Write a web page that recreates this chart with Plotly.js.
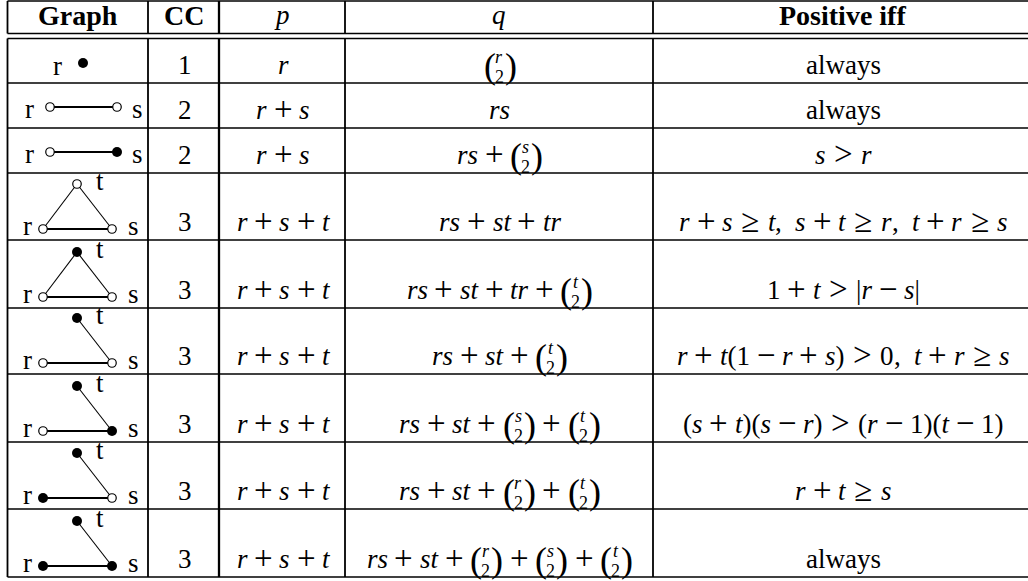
<!DOCTYPE html>
<html>
<head>
<meta charset="utf-8">
<script src="https://cdn.plot.ly/plotly-3.0.1.min.js"></script>
<style>
html, body { margin: 0; padding: 0; background: #fff; }
#plot { width: 1028px; height: 581px; }
</style>
</head>
<body>
<div id="plot"></div>
<script>
// table content
var headers = ["Graph", "CC", "p", "q", "Positive iff"];
var nodeSets = ["r", "rs", "rs", "rst", "rst", "rst", "rst", "rst", "rst"];
var filledNodes = ["r", "", "s", "", "t", "t", "st", "rt", "rst"];
var edgeSets = [[], ["rs"], ["rs"], ["rs", "st", "tr"], ["rs", "st", "tr"],
  ["rs", "st"], ["rs", "st"], ["rs", "st"], ["rs", "st"]];
var ccValues = ["1", "2", "2", "3", "3", "3", "3", "3", "3"];
var pValues = ["r", "r + s", "r + s", "r + s + t", "r + s + t", "r + s + t",
  "r + s + t", "r + s + t", "r + s + t"];
// {x} stands for the binomial coefficient (x choose 2)
var qValues = ["{r}", "rs", "rs + {s}", "rs + st + tr", "rs + st + tr + {t}",
  "rs + st + {t}", "rs + st + {s} + {t}", "rs + st + {r} + {t}",
  "rs + st + {r} + {s} + {t}"];
var conditions = ["always", "always", "s > r",
  "r + s ≥ t, s + t ≥ r, t + r ≥ s",
  "1 + t > |r − s|",
  "r + t(1 − r + s) > 0, t + r ≥ s",
  "(s + t)(s − r) > (r − 1)(t − 1)",
  "r + t ≥ s", "always"];

// page geometry (pixels)
var colEdges = [7.5, 148, 219, 345, 653, 1032];
var headTop = 1, headBottom = 33.5, bodyTop = 38.5;
var rowBottoms = [83, 128, 173, 240, 308, 374, 442, 509, 577];

var FONT = "'Liberation Serif', 'DejaVu Serif', serif";
var SIZE = 27, SMALL = 18, PAREN = 36, HEAD = 28, OP = 33;
var K = 0.3375; // box centre above baseline, in em
var GAP = { bin: 6.8, rel: 8.6, punct: 0.5 * SIZE };

var ctx = document.createElement("canvas").getContext("2d");
function textWidth(s, style, size) {
  ctx.font = style + " " + size + "px " + FONT;
  return ctx.measureText(s).width;
}
function esc(s) { return s.replace(/&/g, "&amp;").replace(/</g, "&lt;").replace(/>/g, "&gt;"); }

var annotations = [];
function put(x, baseline, html, size, anchor) {
  annotations.push({
    x: x, y: baseline - K * size, xref: "x", yref: "y",
    xanchor: anchor || "center", yanchor: "middle",
    text: html, showarrow: false, borderpad: 0,
    font: { family: FONT, size: size, color: "#000" }
  });
}

// split a formula into atoms: ord text, binary ops, relations, commas, binomials
function atoms(str) {
  var out = [], m, re = /\{([a-z])\}|[a-z]+|[0-9]+|[()|]|[+−]|[>≥]|,|\s+/g;
  while ((m = re.exec(str))) {
    var s = m[0];
    if (/^\s+$/.test(s)) continue;
    if (m[1]) out.push({ kind: "binom", top: m[1] });
    else if (/^[a-z]+$/.test(s)) out.push({ kind: "ord", t: s, it: s.length < 3 });
    else if (/^[+−]$/.test(s)) out.push({ kind: "bin", t: s });
    else if (/^[>≥]$/.test(s)) out.push({ kind: "rel", t: s });
    else if (s === ",") out.push({ kind: "punct", t: s });
    else out.push({ kind: "ord", t: s, it: false });
  }
  return out;
}

// lay out one cell centred on cx, TeX-like spacing between atoms
function cell(str, cx, baseline) {
  var items = [], cur = null;
  function flush() { if (cur) { items.push(cur); cur = null; } }
  function addText(t, it) {
    if (!cur) cur = { kind: "text", html: "", w: 0 };
    cur.w += textWidth(t, it ? "italic" : "normal", SIZE);
    cur.html += it ? "<i>" + esc(t) + "</i>" : esc(t);
  }
  atoms(str).forEach(function (a) {
    if (a.kind === "ord") { addText(a.t, a.it); return; }
    flush();
    if (a.kind === "binom") {
      var pw = textWidth("(", "normal", PAREN);
      var inner = Math.max(textWidth(a.top, "italic", SMALL), textWidth("2", "normal", SMALL));
      items.push({ kind: "binom", top: a.top, pw: pw, inner: inner, w: 2 * pw + inner });
    } else if (a.kind === "punct") {
      addText(a.t, false); flush();
      items.push({ kind: "gap", w: GAP.punct });
    } else {
      items.push({ kind: "gap", w: GAP[a.kind] });
      items.push({ kind: "op", html: esc(a.t), w: textWidth(a.t, "normal", OP) });
      items.push({ kind: "gap", w: GAP[a.kind] });
    }
  });
  flush();
  var total = items.reduce(function (s, it) { return s + it.w; }, 0);
  var x = cx - total / 2;
  items.forEach(function (it) {
    if (it.kind === "text") put(x, baseline, it.html, SIZE, "left");
    if (it.kind === "op") put(x, baseline + 0.25 * (OP - SIZE), it.html, OP, "left");
    if (it.kind === "binom") {
      put(x, baseline + 3.7, "(", PAREN, "left");
      put(x + it.pw + it.inner / 2, baseline - 11, "<i>" + it.top + "</i>", SMALL, "center");
      put(x + it.pw + it.inner / 2, baseline + 9.5, "2", SMALL, "center");
      put(x + it.pw + it.inner, baseline + 3.7, ")", PAREN, "left");
    }
    x += it.w;
  });
}

function colCenter(c) { return (colEdges[c] + colEdges[c + 1]) / 2; }

// header
headers.forEach(function (h, c) {
  var html = h.length === 1 ? "<i>" + h + "</i>" : "<b>" + h + "</b>";
  put(colCenter(c), headBottom - 9, html, h.length === 1 ? SIZE : HEAD, "center");
});

// body text columns
rowBottoms.forEach(function (B, i) {
  var base = B - 9;
  cell(ccValues[i], colCenter(1), base);
  cell(pValues[i], colCenter(2), base);
  cell(qValues[i], colCenter(3), base);
  cell(conditions[i], colCenter(4), base);
});

// graph drawings
function nodeXY(i, n) {
  var B = rowBottoms[i], k = nodeSets[i].length;
  if (k === 1) return { r: [83, B - 20] }[n];
  if (k === 2) return { r: [50, B - 21], s: [117, B - 21] }[n];
  return { r: [43, B - 11], s: [112, B - 11], t: [77, B - 56] }[n];
}
function labelXY(i, n) {
  var B = rowBottoms[i], k = nodeSets[i].length;
  if (k === 1) return { r: [57, B - 8] }[n];
  if (k === 2) return { r: [29, B - 10], s: [137, B - 10] }[n];
  return { r: [27, B - 5], s: [133, B - 5], t: [100, B - 50] }[n];
}

var flatX = [], flatY = [], slantX = [], slantY = [];
var openX = [], openY = [], fullX = [], fullY = [];
nodeSets.forEach(function (set, i) {
  edgeSets[i].forEach(function (e) {
    var a = nodeXY(i, e[0]), b = nodeXY(i, e[1]);
    var X = e === "rs" ? flatX : slantX, Y = e === "rs" ? flatY : slantY;
    X.push(a[0], b[0], null); Y.push(a[1], b[1], null);
  });
  set.split("").forEach(function (n) {
    var p = nodeXY(i, n);
    if (filledNodes[i].indexOf(n) >= 0) { fullX.push(p[0]); fullY.push(p[1]); }
    else { openX.push(p[0]); openY.push(p[1]); }
    var l = labelXY(i, n);
    put(l[0], l[1], n, SIZE, "center");
  });
});

var data = [
  { x: flatX, y: flatY, mode: "lines", type: "scatter", line: { color: "#000", width: 1.8 }, hoverinfo: "skip" },
  { x: slantX, y: slantY, mode: "lines", type: "scatter", line: { color: "#000", width: 1.1 }, hoverinfo: "skip" },
  { x: openX, y: openY, mode: "markers", type: "scatter", hoverinfo: "skip",
    marker: { symbol: "circle", size: 8.5, color: "#fff", line: { color: "#000", width: 1.2 } } },
  { x: fullX, y: fullY, mode: "markers", type: "scatter", hoverinfo: "skip",
    marker: { symbol: "circle", size: 10, color: "#000", line: { width: 0 } } }
];

// table rules
var shapes = [];
function rule(x0, y0, x1, y1, w) {
  shapes.push({ type: "line", xref: "x", yref: "y", x0: x0, y0: y0, x1: x1, y1: y1,
    line: { color: "#000", width: w || 1.6 } });
}
rule(colEdges[0], headTop, 1032, headTop);
rule(colEdges[0], headBottom, 1032, headBottom);
rule(colEdges[0], bodyTop, 1032, bodyTop);
rowBottoms.forEach(function (B) { rule(colEdges[0], B, 1032, B); });
colEdges.slice(0, 5).forEach(function (x, c) {
  var w = c === 2 ? 2.3 : 1.8;
  rule(x, headTop, x, headBottom, w);
  rule(x, bodyTop, x, rowBottoms[rowBottoms.length - 1], w);
});

var layout = {
  width: 1028, height: 581,
  margin: { l: 0, r: 0, t: 0, b: 0 },
  paper_bgcolor: "#fff", plot_bgcolor: "#fff",
  showlegend: false,
  xaxis: { range: [0, 1028], visible: false, fixedrange: true },
  yaxis: { range: [581, 0], visible: false, fixedrange: true },
  shapes: shapes,
  annotations: annotations
};

Plotly.newPlot("plot", data, layout, { staticPlot: true, displayModeBar: false });
</script>
</body>
</html>
